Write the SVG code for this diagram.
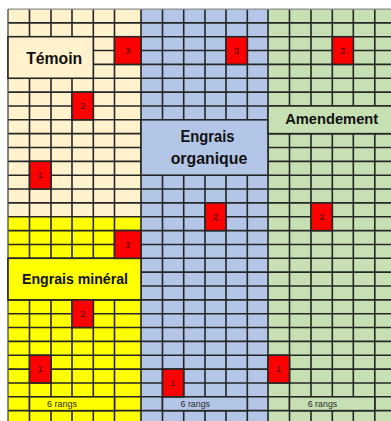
<svg xmlns="http://www.w3.org/2000/svg" width="391" height="421" viewBox="0 0 391 421">
<style>
.g{stroke:#262626;stroke-width:1.6;fill:none}
.c{stroke:#262626;stroke-width:1.6}
.cream{fill:#FFF2CC}.yel{fill:#FFFF00}.blu{fill:#B4C6E7}.grn{fill:#C6E0B4}.red{fill:#FF0000}
.lab{font-family:"Liberation Sans",Arial,sans-serif;font-weight:bold;fill:#111;text-anchor:middle}
.num{font-family:"Liberation Sans",Arial,sans-serif;font-size:9px;fill:#3a0000;text-anchor:middle}
.rg{font-family:"Liberation Sans",Arial,sans-serif;font-size:9px;fill:#2a2a2a;text-anchor:middle}
</style>
<rect x="0" y="0" width="391" height="421" fill="#fff"/>
<g id="backgrounds">
<rect class="cream" x="8" y="9" width="133" height="207.75"/>
<rect class="yel" x="8" y="216.75" width="133" height="205"/>
<rect class="blu" x="141" y="9" width="127" height="413"/>
<rect class="grn" x="268" y="9" width="128" height="413"/>
</g>
<g id="grid">
<path class="g" d="M8 22.85H396M8 36.7H396M8 50.55H396M8 64.4H396M8 78.25H396M8 92.1H396M8 105.95H396M8 119.8H396M8 133.65H396M8 147.5H396M8 161.35H396M8 175.2H396M8 189.05H396M8 202.9H396M8 216.75H396M8 230.6H396M8 244.45H396M8 258.3H396M8 272.15H396M8 286H396M8 299.85H396M8 313.7H396M8 327.55H396M8 341.4H396M8 355.25H396M8 369.1H396M8 382.95H396M8 396.8H396M8 410.65H396"/>
<path class="g" d="M29.5 9V421M51 9V421M72 9V421M93.3 9V421M114.5 9V421M141 9V421M162.5 9V421M183.7 9V421M205 9V421M226 9V421M247.3 9V421M268 9V421M289.5 9V421M311 9V421M332.3 9V421M353.3 9V421M374.8 9V421"/>
<path d="M8 9.2H396" stroke="#8c8c8c" stroke-width="1.2" fill="none"/>
<path d="M8 9V421" stroke="#555" stroke-width="1.4" fill="none"/>
</g>
<g id="temoin">
<rect class="cream c" x="8" y="36.7" width="85.3" height="41.55"/>
<text class="lab" x="54.2" y="64.4" font-size="16" textLength="56" lengthAdjust="spacingAndGlyphs">Témoin</text>
</g>
<g id="engrais-organique">
<rect class="blu c" x="141" y="119.8" width="127" height="55.4"/>
<text class="lab" x="207.5" y="141.7" font-size="16" textLength="54" lengthAdjust="spacingAndGlyphs">Engrais</text>
<text class="lab" x="209" y="164" font-size="16" textLength="76.6" lengthAdjust="spacingAndGlyphs">organique</text>
</g>
<g id="amendement">
<rect class="grn c" x="268" y="105.95" width="128" height="27.7"/>
<text class="lab" x="331.7" y="124.4" font-size="14.5" textLength="93" lengthAdjust="spacingAndGlyphs">Amendement</text>
</g>
<g id="engrais-mineral">
<rect class="yel c" x="8" y="258.3" width="133" height="41.55"/>
<text class="lab" x="75" y="283.8" font-size="14.5" textLength="106" lengthAdjust="spacingAndGlyphs">Engrais minéral</text>
</g>
<g id="rangs">
<rect class="yel c" x="29.5" y="396.8" width="85" height="13.85"/>
<text class="rg" x="62" y="407" textLength="30" lengthAdjust="spacingAndGlyphs">6 rangs</text>
<rect class="blu c" x="162.5" y="396.8" width="84.8" height="13.85"/>
<text class="rg" x="195.3" y="407" textLength="29.5" lengthAdjust="spacingAndGlyphs">6 rangs</text>
<rect class="grn c" x="289.5" y="396.8" width="85.3" height="13.85"/>
<text class="rg" x="322.5" y="407" textLength="29.5" lengthAdjust="spacingAndGlyphs">6 rangs</text>
</g>
<g id="markers">
<g id="t3"><rect class="red c" x="114.5" y="36.7" width="26.5" height="27.7"/><text class="num" x="127.75" y="53.8">3</text></g>
<g id="t2"><rect class="red c" x="72" y="92.1" width="21.3" height="27.7"/><text class="num" x="82.65" y="109.2">2</text></g>
<g id="t1"><rect class="red c" x="29.5" y="161.35" width="21.5" height="27.7"/><text class="num" x="40.25" y="178.4">1</text></g>
<g id="m3"><rect class="red c" x="114.5" y="230.6" width="26.5" height="27.7"/><text class="num" x="127.75" y="247.7">3</text></g>
<g id="m2"><rect class="red c" x="72" y="299.85" width="21.3" height="27.7"/><text class="num" x="82.65" y="316.9">2</text></g>
<g id="m1"><rect class="red c" x="29.5" y="355.25" width="21.5" height="27.7"/><text class="num" x="40.25" y="372.3">1</text></g>
<g id="o3"><rect class="red c" x="226" y="36.7" width="21.3" height="27.7"/><text class="num" x="236.65" y="53.8">3</text></g>
<g id="o2"><rect class="red c" x="205" y="202.9" width="21" height="27.7"/><text class="num" x="215.5" y="220">2</text></g>
<g id="o1"><rect class="red c" x="162.5" y="369.1" width="21.2" height="27.7"/><text class="num" x="173.1" y="386.2">1</text></g>
<g id="a3"><rect class="red c" x="332.3" y="36.7" width="21" height="27.7"/><text class="num" x="342.8" y="53.8">3</text></g>
<g id="a2"><rect class="red c" x="311" y="202.9" width="21.3" height="27.7"/><text class="num" x="321.65" y="220">2</text></g>
<g id="a1"><rect class="red c" x="268" y="355.25" width="21.5" height="27.7"/><text class="num" x="278.75" y="372.3">1</text></g>
</g>
</svg>
